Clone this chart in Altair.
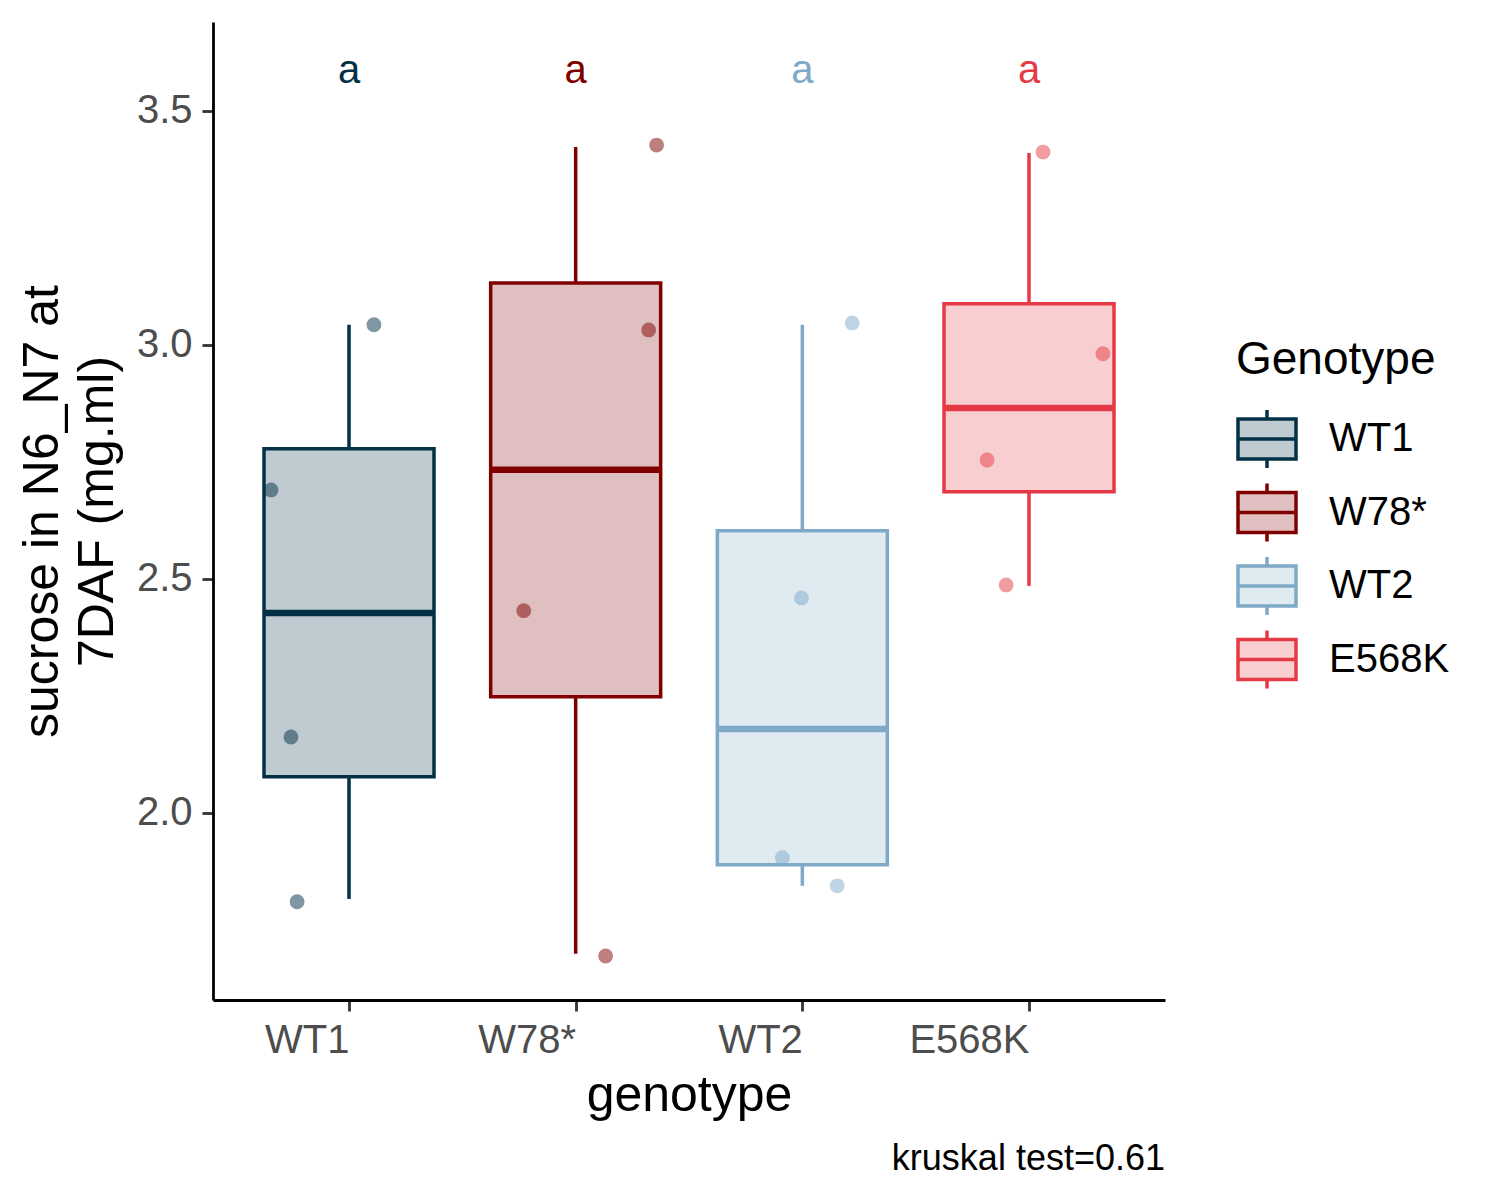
import altair as alt
import pandas as pd

# ---------------- data ----------------
genotypes = ["WT1", "W78*", "WT2", "E568K"]
positions = [1, 2, 3, 4]
dark_colors = ["#023047", "#800000", "#7FAAC7", "#E63946"]

box_lower = [1.816, 1.699, 1.844, 2.485]
box_q1 = [2.077, 2.248, 1.889, 2.686]
box_median = [2.427, 2.733, 2.179, 2.865]
box_q3 = [2.778, 3.132, 2.603, 3.088]
box_upper = [3.043, 3.423, 3.043, 3.410]

point_genotype = ["WT1", "WT1", "WT1", "WT1",
                  "W78*", "W78*", "W78*", "W78*",
                  "WT2", "WT2", "WT2", "WT2",
                  "E568K", "E568K", "E568K", "E568K"]
point_x = [0.656, 1.110, 0.744, 0.771,
           2.357, 2.322, 1.771, 2.132,
           3.220, 2.996, 2.912, 3.154,
           4.062, 4.326, 3.815, 3.899]
point_y = [2.690, 3.043, 2.162, 1.810,
           3.427, 3.032, 2.432, 1.694,
           3.047, 2.459, 1.904, 1.844,
           3.412, 2.981, 2.754, 2.487]

letters = ["a", "a", "a", "a"]
letter_y = [3.560, 3.560, 3.560, 3.560]

caption = "kruskal test=0.61"
y_title = ["sucrose in N6_N7 at", "7DAF (mg.ml)"]
x_title = "genotype"
legend_title = "Genotype"


def lighten(hex_color, alpha=0.25):
    h = hex_color.lstrip("#")
    rgb = [int(h[i:i + 2], 16) for i in (0, 2, 4)]
    mixed = [round(255 - (255 - c) * alpha) for c in rgb]
    return "#" + "".join(f"{c:02X}" for c in mixed)


light_colors = [lighten(c) for c in dark_colors]

FONT = "Liberation Sans"
HALF = 0.375

box_df = pd.DataFrame({
    "genotype": genotypes,
    "pos": positions,
    "lo": [p - HALF for p in positions],
    "hi": [p + HALF for p in positions],
    "lower": box_lower,
    "q1": box_q1,
    "median": box_median,
    "q3": box_q3,
    "upper": box_upper,
})
pt_df = pd.DataFrame({"genotype": point_genotype, "px": point_x, "py": point_y})
txt_df = pd.DataFrame({"genotype": genotypes, "pos": positions,
                       "letter": letters, "ly": letter_y})

x_scale = alt.Scale(domain=[0.4, 4.6], nice=False, zero=False)
y_scale = alt.Scale(domain=[1.6, 3.69], nice=False, zero=False)

label_list = ",".join(f"'{g}'" for g in genotypes)
x_axis = alt.Axis(values=positions, labelExpr=f"[{label_list}][datum.value-1]",
                  labelAlign="right", labelBaseline="top", labelFlush=False,
                  labelPadding=9, titlePadding=10, grid=False)
y_axis = alt.Axis(values=[2.0, 2.5, 3.0, 3.5], format=".1f", grid=False,
                  labelPadding=10, titlePadding=14, titleLineHeight=55)

sym_path = "M-1,-0.69H1V0.69H-1Z M-1,0H1 M0,-1V-0.69 M0,0.69V1"
leg = alt.Legend(title=legend_title, orient="none", legendX=1023, legendY=316,
                 symbolType=sym_path, symbolSize=3364, symbolStrokeWidth=3.5,
                 rowPadding=1.5, labelOffset=31, titlePadding=24,
                 titleLimit=400, labelLimit=400)

fill_enc = alt.Fill("genotype:N", scale=alt.Scale(domain=genotypes, range=light_colors),
                    legend=leg)
stroke_enc = alt.Stroke("genotype:N", scale=alt.Scale(domain=genotypes, range=dark_colors),
                        legend=leg)
color_enc = alt.Color("genotype:N", scale=alt.Scale(domain=genotypes, range=dark_colors),
                      legend=None)

base = alt.Chart(box_df)

boxes = base.mark_bar(strokeWidth=3.5).encode(
    x=alt.X("lo:Q", scale=x_scale, axis=x_axis, title=x_title),
    x2="hi:Q",
    y=alt.Y("q1:Q", scale=y_scale, axis=y_axis, title=y_title),
    y2="q3:Q",
    fill=fill_enc,
    stroke=stroke_enc,
)

whisk_up = base.mark_rule(strokeWidth=3.5).encode(
    x="pos:Q", y="q3:Q", y2="upper:Q", stroke=stroke_enc)
whisk_lo = base.mark_rule(strokeWidth=3.5).encode(
    x="pos:Q", y="lower:Q", y2="q1:Q", stroke=stroke_enc)
medians = base.mark_rule(strokeWidth=6.5).encode(
    x="lo:Q", x2="hi:Q", y="median:Q", stroke=stroke_enc)

points = alt.Chart(pt_df).mark_circle(size=220, opacity=0.5).encode(
    x="px:Q", y="py:Q", color=color_enc)

texts = alt.Chart(txt_df).mark_text(fontSize=40, font=FONT, baseline="alphabetic",
                                    align="center").encode(
    x="pos:Q", y="ly:Q", text="letter:N", color=color_enc)

chart = alt.layer(whisk_up, whisk_lo, boxes, medians, points, texts).properties(
    width=952, height=978,
    padding={"left": 9, "top": 14, "right": 5, "bottom": 5},
    title=alt.TitleParams(caption, orient="bottom", anchor="end", frame="group",
                          fontSize=36, fontWeight="normal", color="black",
                          font=FONT, offset=22),
).configure_view(stroke=None).configure_axis(
    domainColor="black", domainWidth=2.8,
    tickColor="#333333", tickWidth=2.8, tickSize=11,
    labelFont=FONT, labelFontSize=40, labelColor="#4D4D4D",
    titleFont=FONT, titleFontSize=50, titleColor="black", titleFontWeight="normal",
).configure_legend(
    titleFont=FONT, titleFontSize=46, titleColor="black", titleFontWeight="normal",
    labelFont=FONT, labelFontSize=40, labelColor="black",
)

chart.save("out.html", embed_options={"renderer": "svg", "actions": False})
